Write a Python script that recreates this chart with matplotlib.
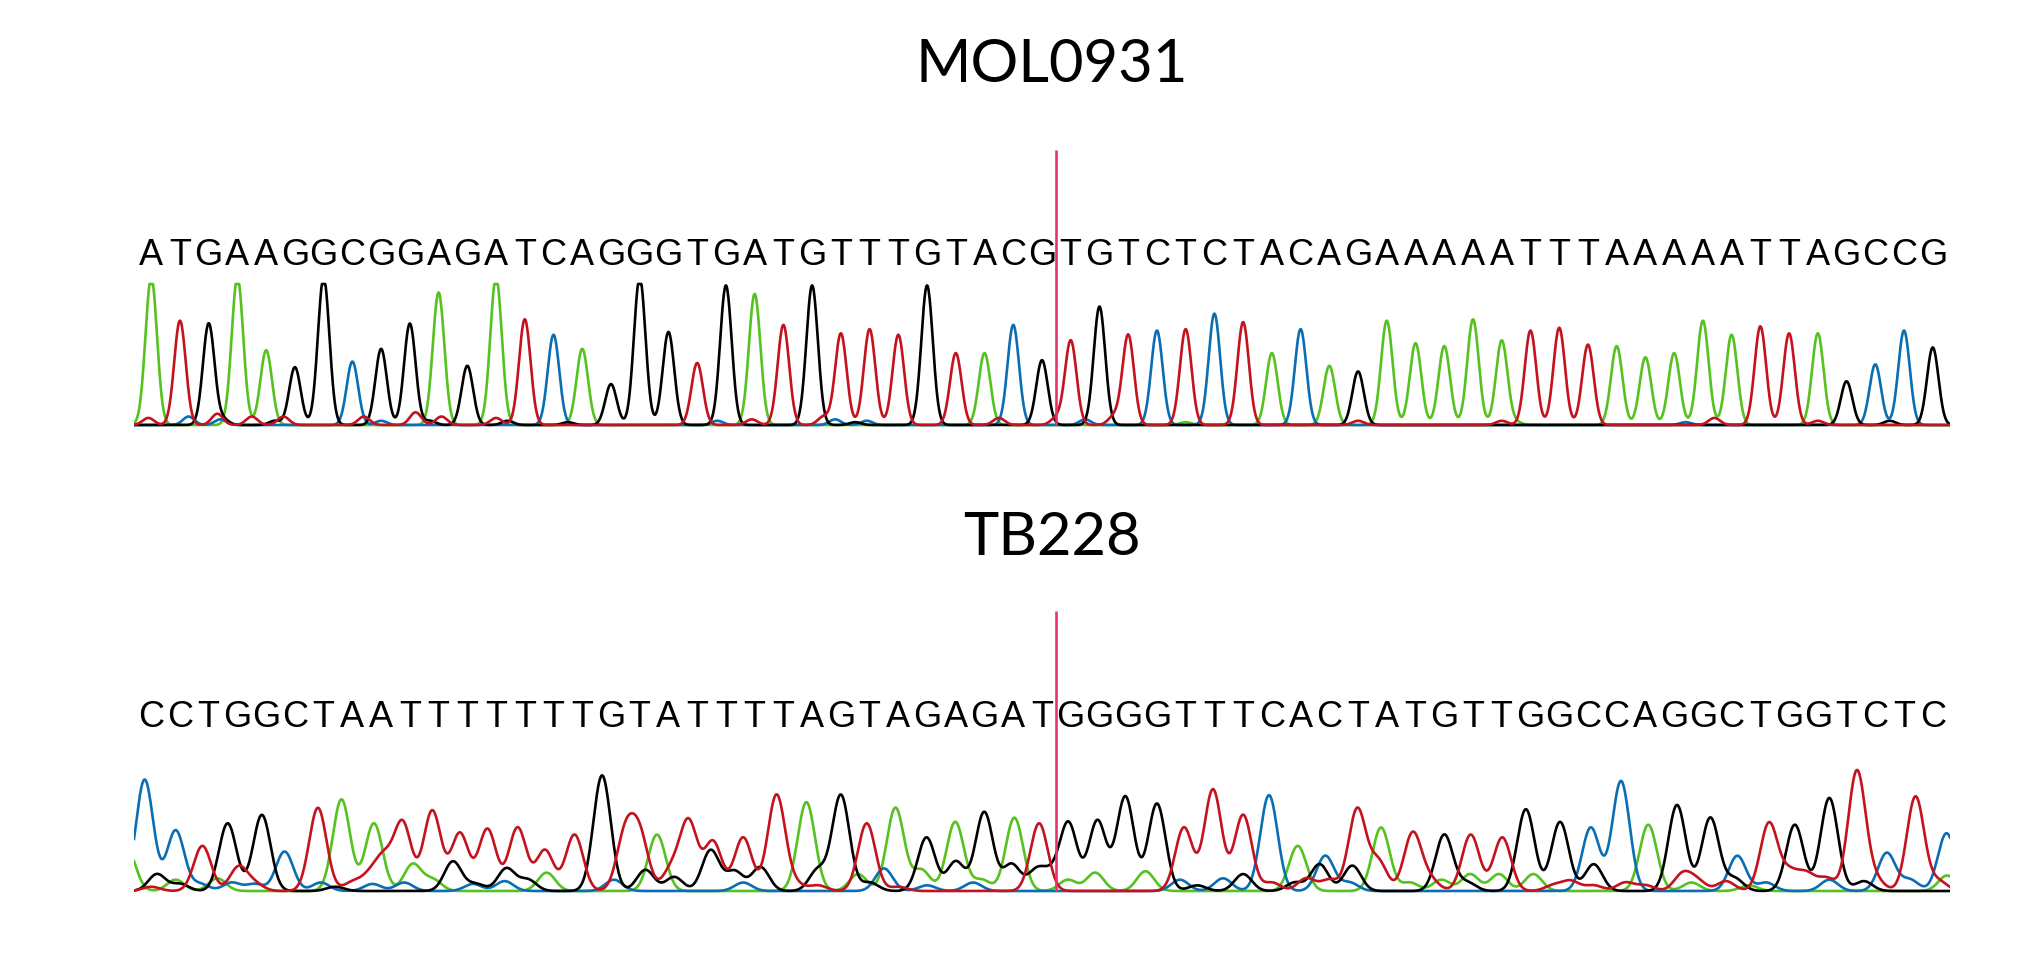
import numpy as np
import matplotlib
matplotlib.use("Agg")
import matplotlib.pyplot as plt

# ---------------- data ----------------
top_title = "MOL0931"
bottom_title = "TB228"

top_seq = "ATGAAGGCGGAGATCAGGGTGATGTTTGTACGTGTCTCTACAGAAAAATTTAAAAATTAGCCG"
# main peak height of each called base (1.0 = tallest, >1 saturated)
top_heights = [1.05, 0.74, 0.72, 1.05, 0.53, 0.41, 1.05, 0.45, 0.54, 0.72,
               0.94, 0.42, 1.05, 0.75, 0.64, 0.54, 0.29, 1.05, 0.66, 0.44,
               0.99, 0.93, 0.71, 0.99, 0.65, 0.68, 0.64, 0.99, 0.51, 0.51,
               0.71, 0.46, 0.60, 0.84, 0.64, 0.67, 0.68, 0.79, 0.73, 0.51,
               0.68, 0.42, 0.38, 0.74, 0.58, 0.56, 0.75, 0.60, 0.67, 0.69,
               0.57, 0.56, 0.48, 0.51, 0.74, 0.64, 0.70, 0.65, 0.65, 0.31,
               0.43, 0.67, 0.55]
# small background bumps (position in bases, height)
top_minor_A = [(36.0, 0.02), (47.5, 0.02)]
top_minor_C = [(1.3, 0.06), (2.4, 0.04), (8.0, 0.03), (19.7, 0.03), (23.8, 0.04),
               (24.9, 0.03), (32.5, 0.04), (53.4, 0.02)]
top_minor_G = [(2.5, 0.04), (4.3, 0.03), (9.7, 0.03), (12.4, 0.03), (14.5, 0.02),
               (24.5, 0.02), (60.5, 0.03)]
top_minor_T = [(-0.1, 0.05), (2.3, 0.08), (3.5, 0.06), (4.6, 0.06), (7.4, 0.06),
               (9.2, 0.09), (10.1, 0.06), (12.0, 0.05), (20.9, 0.04), (23.4, 0.06),
               (29.5, 0.05), (31.5, 0.05), (33.5, 0.06), (42.0, 0.03), (47.0, 0.03),
               (54.4, 0.05), (58.0, 0.03)]

bottom_seq = "CCTGGCTAATTTTTTTGTATTTTAGTAGAGATGGGGTTTCACTATGTTGGCCAGGCTGGTCTC"
cut_after = 32  # breakpoint line between base 31 and base 32

bottom_A = [(-0.85, 0.30), (0.85, 0.08), (2.3, 0.09), (6.62, 0.65), (7.75, 0.48),
            (9.1, 0.19), (9.8, 0.08), (13.76, 0.13), (17.6, 0.40), (22.8, 0.63),
            (24.6, 0.12), (25.9, 0.59), (26.8, 0.15), (27.98, 0.49), (28.9, 0.08),
            (30.04, 0.52), (31.9, 0.08), (32.85, 0.13), (34.6, 0.14), (39.9, 0.32),
            (42.8, 0.45), (43.8, 0.06), (44.9, 0.08), (45.9, 0.12), (46.9, 0.12),
            (48.1, 0.12), (52.1, 0.47), (53.6, 0.06), (55.6, 0.04), (62.5, 0.11)]
bottom_C = [(-0.23, 0.79), (0.85, 0.43), (1.7, 0.05), (2.8, 0.06), (3.6, 0.05),
            (4.64, 0.28), (5.9, 0.06), (7.7, 0.05), (8.8, 0.06), (11.2, 0.05),
            (12.3, 0.07), (16.1, 0.08), (20.6, 0.06), (25.5, 0.16), (27.0, 0.04),
            (28.6, 0.06), (35.8, 0.08), (37.3, 0.09), (38.9, 0.68), (40.86, 0.25),
            (41.7, 0.06), (50.1, 0.45), (51.15, 0.78), (55.2, 0.25), (56.2, 0.06),
            (58.4, 0.08), (60.4, 0.27), (61.2, 0.08), (62.48, 0.41)]
bottom_G = [(0.2, 0.12), (1.0, 0.05), (2.66, 0.48), (3.85, 0.54), (6.4, 0.03),
            (10.5, 0.21), (11.3, 0.05), (12.36, 0.16), (13.1, 0.08), (15.69, 0.82),
            (17.2, 0.15), (18.2, 0.10), (19.47, 0.29), (20.3, 0.14), (21.2, 0.17),
            (23.2, 0.15), (24.0, 0.68), (25.0, 0.06), (26.98, 0.38), (28.0, 0.21),
            (28.99, 0.56), (29.94, 0.19), (30.8, 0.14), (31.3, 0.10), (31.92, 0.48),
            (32.93, 0.50), (33.9, 0.67), (35.0, 0.62), (36.4, 0.04), (38.0, 0.12),
            (39.8, 0.06), (40.66, 0.19), (41.8, 0.18), (45.0, 0.40), (45.8, 0.06),
            (47.84, 0.58), (49.03, 0.49), (50.2, 0.19), (53.1, 0.61), (54.26, 0.52),
            (55.1, 0.09), (57.2, 0.47), (58.4, 0.66), (59.6, 0.07)]
bottom_T = [(0.0, 0.03), (1.78, 0.32), (3.04, 0.17), (3.6, 0.05), (5.8, 0.59),
            (7.0, 0.06), (7.6, 0.10), (8.1, 0.22), (8.75, 0.48), (9.78, 0.57),
            (10.74, 0.41), (11.7, 0.44), (12.75, 0.45), (13.7, 0.29), (14.73, 0.40),
            (16.5, 0.40), (17.0, 0.38), (18.1, 0.15), (18.7, 0.49), (19.55, 0.35),
            (20.6, 0.38), (21.76, 0.68), (22.4, 0.05), (23.2, 0.04), (24.9, 0.48),
            (26.0, 0.03), (30.9, 0.48), (35.94, 0.45), (36.95, 0.72), (38.0, 0.54),
            (39.0, 0.06), (40.2, 0.09), (41.0, 0.08), (41.97, 0.58), (42.7, 0.21),
            (43.9, 0.41), (44.5, 0.08), (45.92, 0.40), (47.02, 0.38), (48.8, 0.04),
            (49.4, 0.07), (50.2, 0.04), (51.3, 0.06), (52.0, 0.04), (53.3, 0.12),
            (53.8, 0.07), (54.8, 0.07), (56.3, 0.48), (57.0, 0.13), (57.6, 0.12),
            (58.3, 0.09), (59.36, 0.85), (60.0, 0.08), (61.4, 0.67), (62.2, 0.07)]

# ---------------- style / layout ----------------
W, H = 2042, 975
colors = {"A": "#55C21F", "C": "#0A6EB4", "G": "#000000", "T": "#C4121E"}
line_color = "#E8336A"
XL, XR = -0.6, 62.6
PX_LEFT, PX_RIGHT = 134, 1950
UNIT = 141.0  # pixels per unit height

fig = plt.figure(figsize=(W / 100, H / 100), dpi=100)
xs = np.linspace(XL, XR, 4000)


def gauss_sum(peaks, sigma):
    out = np.zeros_like(xs)
    for p, h in peaks:
        out += h * np.exp(-(xs - p) ** 2 / (2 * sigma ** 2))
    return out


def make_axes(base_px, top_px, bottom_px):
    ax = fig.add_axes([PX_LEFT / W, 1 - bottom_px / H,
                       (PX_RIGHT - PX_LEFT) / W, (bottom_px - top_px) / H])
    ax.set_xlim(XL, XR)
    ax.set_ylim((base_px - bottom_px) / UNIT, (base_px - top_px) / UNIT)
    ax.axis("off")
    return ax


def draw_panel(ax, seq, channels, sigma, base_px, text_base_px, line_top_px, clip):
    for b in "ACGT":
        y = gauss_sum(channels[b], sigma)
        if clip:
            y = np.minimum(y, 1.0)
        ax.plot(xs, y, color=colors[b], lw=1.9, solid_joinstyle="round", zorder=2)
    ty = (base_px - text_base_px) / UNIT
    for i, ch in enumerate(seq):
        ax.text(i, ty, ch, ha="center", va="baseline", fontsize=26,
                family="Liberation Sans", color="black")
    ax.plot([cut_after - 0.5, cut_after - 0.5], [0, (base_px - line_top_px) / UNIT],
            color=line_color, lw=1.9, zorder=3, solid_capstyle="butt")


# top panel
top_channels = {b: [] for b in "ACGT"}
for i, (ch, h) in enumerate(zip(top_seq, top_heights)):
    top_channels[ch].append((i, h))
top_channels["A"] += top_minor_A
top_channels["C"] += top_minor_C
top_channels["G"] += top_minor_G
top_channels["T"] += top_minor_T

ax1 = make_axes(425, 140, 432)
draw_panel(ax1, top_seq, top_channels, 0.20, 425, 265, 150, True)

# bottom panel
bottom_channels = {"A": bottom_A, "C": bottom_C, "G": bottom_G, "T": bottom_T}
ax2 = make_axes(891, 600, 898)
draw_panel(ax2, bottom_seq, bottom_channels, 0.30, 891, 727, 611, False)

# titles
fig.text(1052 / W, 1 - 82 / H, top_title, ha="center", va="baseline",
         fontsize=43, family="Lato")
fig.text(1052 / W, 1 - 555 / H, bottom_title, ha="center", va="baseline",
         fontsize=43, family="Lato")

fig.savefig("out.png", dpi=100, facecolor="white")
